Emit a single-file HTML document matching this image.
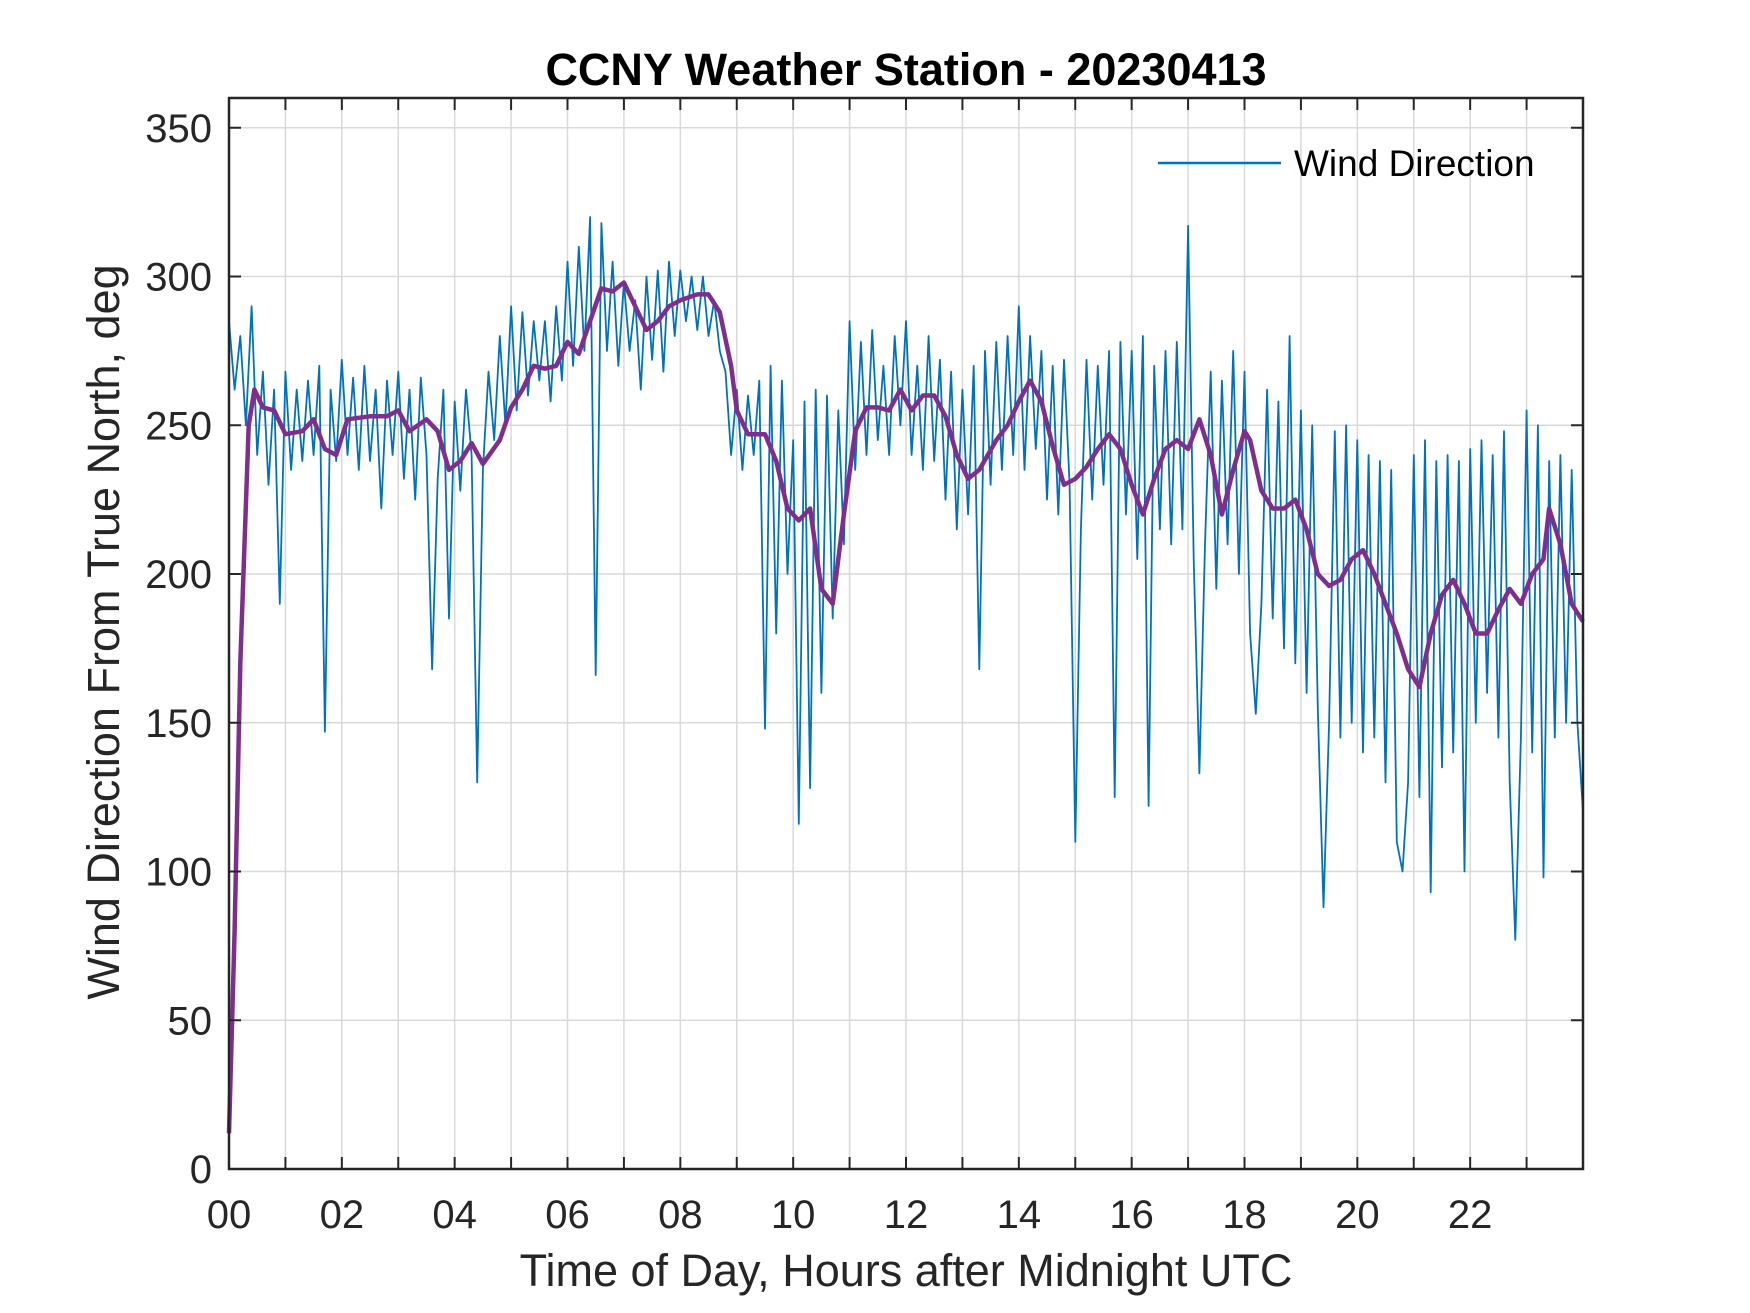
<!DOCTYPE html>
<html><head><meta charset="utf-8"><style>
body{margin:0;background:#fff}
svg{display:block;font-family:"Liberation Sans",Arial,sans-serif}
</style></head><body>
<svg id="chart" width="1750" height="1313" viewBox="0 0 1750 1313">
<rect width="1750" height="1313" fill="#fff"/>
<text x="906" y="85" font-size="45" font-weight="bold" text-anchor="middle" fill="#000">CCNY Weather Station - 20230413</text>
<g id="grid"></g><g id="series"></g><g id="axes"></g>
<text x="906" y="1286" font-size="45" text-anchor="middle" fill="#262626">Time of Day, Hours after Midnight UTC</text>
<text transform="translate(119,632) rotate(-90)" font-size="45" text-anchor="middle" fill="#262626">Wind Direction From True North, deg</text>
<g>
<line x1="1158" y1="163" x2="1281" y2="163" stroke="#0072BD" stroke-width="2.5"/>
<text x="1294" y="176" font-size="37" fill="#000">Wind Direction</text>
</g>
</svg>
<script>
const xTicks=[0,1,2,3,4,5,6,7,8,9,10,11,12,13,14,15,16,17,18,19,20,21,22,23];
const xTickLabels=["00","","02","","04","","06","","08","","10","","12","","14","","16","","18","","20","","22",""];
const yTicks=[0,50,100,150,200,250,300,350];
const rawStep=0.1;
const rawValues=[285,262,280,250,290,240,268,230,262,190,
268,235,262,238,265,240,270,147,262,238,
272,240,266,235,270,238,262,222,265,240,
268,232,262,225,266,240,168,232,262,185,
258,228,262,240,130,235,268,245,280,250,
290,255,288,260,285,265,285,258,290,265,
305,270,310,275,320,166,318,275,305,270,
298,275,292,262,300,272,302,268,305,280,
302,285,300,282,300,280,292,275,268,240,
262,235,260,240,265,148,270,180,265,200,
245,116,258,128,262,160,260,185,255,210,
285,235,278,240,282,245,270,240,280,250,
285,240,270,235,280,238,272,225,268,215,
262,220,270,168,275,230,278,235,280,240,
290,235,280,242,275,225,270,220,272,230,
110,215,272,225,270,230,275,125,278,220,
275,205,280,122,270,215,275,210,278,215,
317,205,133,210,268,195,265,210,275,200,
268,180,153,190,262,185,258,175,280,170,
255,160,250,155,88,150,248,145,250,150,
245,140,240,145,238,130,235,110,100,130,
240,125,245,93,238,135,240,140,238,100,
242,150,245,160,240,145,248,130,77,145,
255,140,250,98,238,145,240,150,235,150,120];
const smoothTimes=[0,0.1,0.2,0.35,0.45,0.6,0.8,1.0,1.3,1.5,1.7,1.9,2.1,2.5,2.8,3.0,3.2,3.5,3.7,3.9,4.1,4.3,4.5,4.8,5.0,5.2,5.4,5.6,5.8,6.0,6.2,6.4,6.6,6.8,7.0,7.2,7.4,7.6,7.8,8.0,8.3,8.5,8.7,8.9,9.0,9.2,9.5,9.7,9.9,10.1,10.3,10.5,10.7,10.9,11.1,11.3,11.5,11.7,11.9,12.1,12.3,12.5,12.7,12.9,13.1,13.3,13.6,13.8,14.0,14.2,14.4,14.6,14.8,15.0,15.2,15.4,15.6,15.8,16.0,16.2,16.4,16.6,16.8,17.0,17.2,17.4,17.6,17.8,18.0,18.1,18.3,18.5,18.7,18.9,19.1,19.3,19.5,19.7,19.9,20.1,20.3,20.5,20.7,20.9,21.1,21.3,21.5,21.7,21.9,22.1,22.3,22.5,22.7,22.9,23.1,23.3,23.4,23.6,23.8,24.0];
const smoothValues=[12,80,170,250,262,256,255,247,248,252,242,240,252,253,253,255,248,252,248,235,238,244,237,245,256,262,270,269,270,278,274,285,296,295,298,290,282,285,290,292,294,294,288,270,255,247,247,238,222,218,222,195,190,220,248,256,256,255,262,255,260,260,253,240,232,235,245,250,258,265,258,243,230,232,236,242,247,242,230,220,232,242,245,242,252,240,220,235,248,245,228,222,222,225,215,200,196,198,205,208,200,190,180,168,162,180,193,198,190,180,180,188,195,190,200,205,222,210,190,184];

const L=229,R=1583,T=98,B=1169,xMin=0,xMax=24,yMin=0,yMax=360;
const xs=v=>L+(v-xMin)/(xMax-xMin)*(R-L);
const ys=v=>B-(v-yMin)/(yMax-yMin)*(B-T);
const NS="http://www.w3.org/2000/svg";
function mk(tag,attrs,parent){const e=document.createElementNS(NS,tag);for(const k in attrs)e.setAttribute(k,attrs[k]);parent.appendChild(e);return e;}
const grid=document.getElementById('grid'),axes=document.getElementById('axes'),series=document.getElementById('series');
mk('rect',{x:L,y:T,width:R-L,height:B-T,fill:'#fff'},grid);
xTicks.forEach((t,i)=>{
  const x=xs(t);
  const g=mk('line',{x1:x,y1:T,x2:x,y2:B,stroke:'#d9d9d9','stroke-width':1.5},grid);
  
  
  mk('line',{x1:x,y1:B,x2:x,y2:B-12,stroke:'#262626','stroke-width':2},axes);
  mk('line',{x1:x,y1:T,x2:x,y2:T+12,stroke:'#262626','stroke-width':2},axes);
  if(xTickLabels[i]){
    const tx=mk('text',{x:x,y:1228,'font-size':40,'text-anchor':'middle',fill:'#262626'},axes);
    tx.textContent=xTickLabels[i];
    
    
  }
});
yTicks.forEach(t=>{
  const y=ys(t);
  const g=mk('line',{x1:L,y1:y,x2:R,y2:y,stroke:'#d9d9d9','stroke-width':1.5},grid);
  
  
  mk('line',{x1:L,y1:y,x2:L+12,y2:y,stroke:'#262626','stroke-width':2},axes);
  mk('line',{x1:R,y1:y,x2:R-12,y2:y,stroke:'#262626','stroke-width':2},axes);
  const tx=mk('text',{x:212,y:y+14,'font-size':40,'text-anchor':'end',fill:'#262626'},axes);
  tx.textContent=String(t);
  
  
});
const frame=mk('rect',{x:L,y:T,width:R-L,height:B-T,fill:'none',stroke:'#262626','stroke-width':2.5},axes);


const rawPts=rawValues.map((v,i)=>xs(i*rawStep).toFixed(1)+','+ys(v).toFixed(1)).join(' ');
const raw=mk('polyline',{points:rawPts,fill:'none',stroke:'#0072BD','stroke-width':1.8,'stroke-linejoin':'round'},series);


const smPts=smoothValues.map((v,i)=>xs(smoothTimes[i]).toFixed(1)+','+ys(v).toFixed(1)).join(' ');
const sm=mk('polyline',{points:smPts,fill:'none',stroke:'#7E2F8E','stroke-width':4.5,'stroke-linejoin':'round'},series);


</script>
</body></html>
